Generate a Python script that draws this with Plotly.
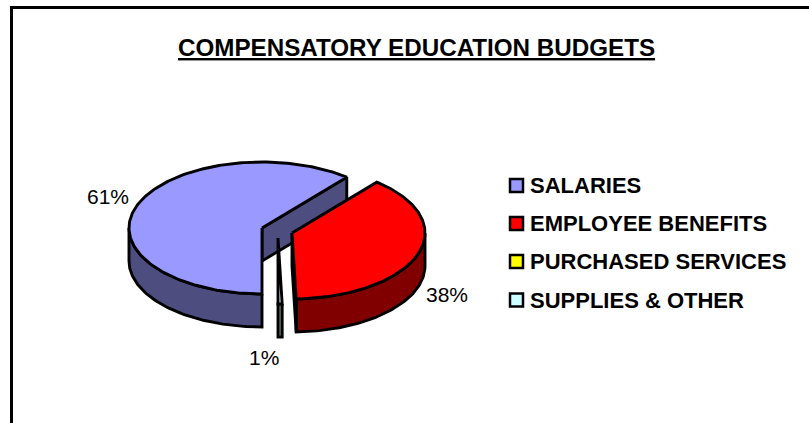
import numpy as np
import plotly.graph_objects as go

# ---- data ----
categories = ["SALARIES", "EMPLOYEE BENEFITS", "PURCHASED SERVICES", "SUPPLIES & OTHER"]
values = [61, 38.5, 0, 0.5]
top_colors = ["#9999FF", "#FF0000", "#FFFF00", "#CCFFFF"]
side_colors = ["#4D4D80", "#800000", "#808000", "#668080"]
title_text = "COMPENSATORY EDUCATION BUDGETS"
value_labels = ["61%", "38%", "", "1%"]

# ---- layout of the tilted pie (pixels, y down) ----
W, H = 809, 423
RX, RY, DEPTH = 133, 66, 33
START = 180.0
apex = {0: (262, 228), 1: (292, 233), 3: (278, 238)}
label_pos = {0: (108, 196), 1: (446.5, 294), 3: (263.5, 357)}
legend_x, legend_y = 516.5, [185.5, 223.5, 261.5, 300]
EDGE = 2.9


def rim(cx, cy, a):
    t = np.radians(a)
    return cx + RX * np.sin(t), cy - RY * np.cos(t)


def poly(fig, x, y, color):
    x, y = list(x), list(y)
    fig.add_trace(go.Scatter(x=x + [x[0]], y=y + [y[0]], mode="lines", fill="toself",
                             fillcolor=color, line=dict(color="black", width=EDGE),
                             showlegend=False, hoverinfo="skip"))


fig = go.Figure()
angles = START + np.cumsum([0] + values) * 360 / sum(values)
for i in [0, 3, 1]:
    a0, a1 = angles[i], angles[i + 1]
    if a0 >= 360:
        a0, a1 = a0 - 360, a1 - 360
    cx, cy = apex[i]
    # outer wall: only the front half of the rim faces the viewer
    ts = np.linspace(max(a0, 90), min(a1, 270), 80)
    rx_, ry_ = rim(cx, cy, ts)
    poly(fig, np.r_[rx_, rx_[::-1]], np.r_[ry_, ry_[::-1] + DEPTH], side_colors[i])
    # cut face at the end angle of the slice, where it faces the viewer
    if i in (0, 1):
        ex, ey = rim(cx, cy, a1)
        poly(fig, [cx, ex, ex, cx], [cy, ey, ey + DEPTH, cy + DEPTH], side_colors[i])
    # top face
    ts = np.linspace(a0, a1, 200)
    rx_, ry_ = rim(cx, cy, ts)
    poly(fig, np.r_[cx, rx_], np.r_[cy, ry_], top_colors[i])

# legend entries
for c, col, ly in zip(categories, top_colors, legend_y):
    fig.add_trace(go.Scatter(x=[legend_x], y=[ly], mode="markers", name=c, showlegend=False,
                             hoverinfo="name",
                             marker=dict(symbol="square", size=13, color=col,
                                         line=dict(color="black", width=2.5))))
    fig.add_annotation(x=legend_x + 11.5, y=ly, text=f"<b>{c}</b>", showarrow=False, xanchor="left",
                       font=dict(family="Liberation Sans", size=22, color="black"))

for i, (lx, ly) in label_pos.items():
    fig.add_annotation(x=lx, y=ly, text=value_labels[i], showarrow=False,
                       font=dict(family="Liberation Sans", size=21, color="black"))

fig.add_annotation(x=416.5, y=47.5, text=f"<b><u>{title_text}</u></b>", showarrow=False,
                   font=dict(family="Liberation Sans", size=24.2, color="black"))

fig.add_shape(type="rect", x0=11.5, y0=7.5, x1=W + 10, y1=H + 10,
              line=dict(color="black", width=3), fillcolor="rgba(0,0,0,0)")

fig.update_layout(
    width=W, height=H, margin=dict(l=0, r=0, t=0, b=0), showlegend=False,
    paper_bgcolor="white", plot_bgcolor="white",
    xaxis=dict(range=[0, W], visible=False, fixedrange=True),
    yaxis=dict(range=[H, 0], visible=False, fixedrange=True),
)
fig.write_html("out.html", config=dict(displayModeBar=False),
               post_script="document.body.style.margin='0';document.body.style.overflow='hidden';")
